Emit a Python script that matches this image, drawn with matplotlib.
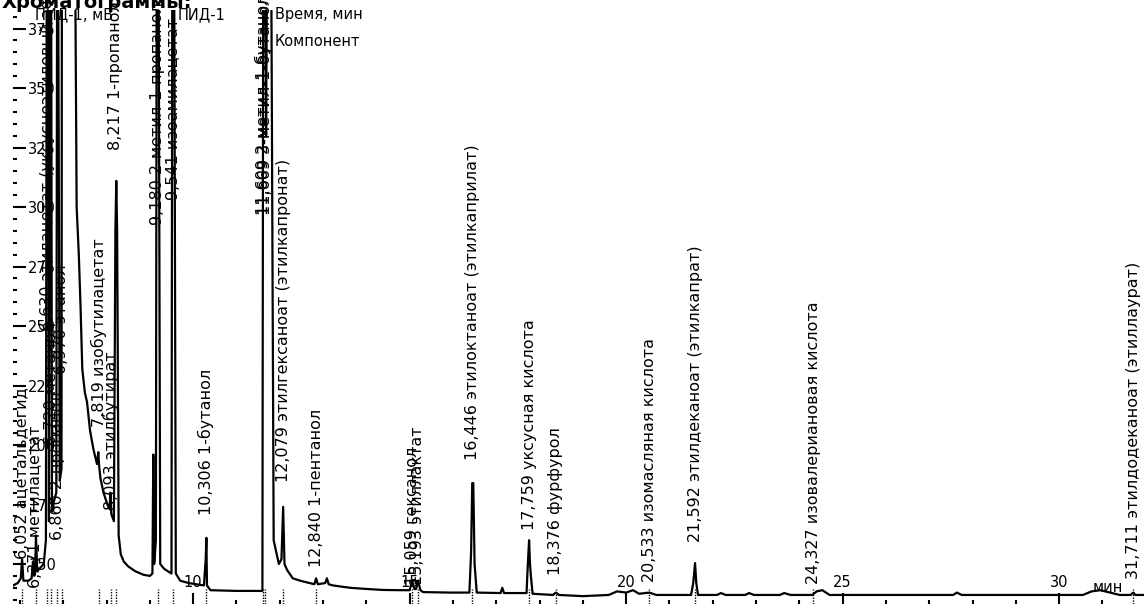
import matplotlib
matplotlib.use("Agg")
import matplotlib.pyplot as plt
import numpy as np

# --- chromatogram trace (minutes, mV) ---
t_early = [5.84, 5.95, 6.02, 6.05, 6.08, 6.20, 6.27, 6.30, 6.33, 6.35, 6.37, 6.40,
           6.55, 6.60, 6.62, 6.65, 6.67, 6.70, 6.72, 6.74, 6.78, 6.84, 6.86, 6.88,
           6.92, 6.96, 6.97, 7.27, 7.31, 7.36, 7.40, 7.44, 7.50, 7.55, 7.62, 7.70,
           7.78, 7.81, 7.83, 7.86, 7.93, 8.02, 8.07, 8.09, 8.11, 8.17, 8.205, 8.225,
           8.245, 8.28, 8.33, 8.40, 8.50]
mv_early = [141, 142, 144, 152, 143, 143, 144, 151, 145, 146, 162, 147,
            150, 160, 420, 420, 168, 420, 420, 172, 176, 180, 420, 420,
            185, 190, 420, 420, 300, 280, 258, 232, 222, 218, 206, 198,
            192, 197, 191, 186, 180, 175, 173, 180, 171, 168, 290, 311,
            290, 162, 154, 151, 149]

t_mid = [8.66, 8.85, 9.00, 9.06, 9.08, 9.10, 9.14, 9.16, 9.20, 9.24, 9.33, 9.50,
         9.52, 9.56, 9.60, 9.70, 9.90, 10.25, 10.29, 10.306, 10.32, 10.40, 11.00,
         11.60, 11.62, 11.66, 11.685, 11.71, 11.80, 11.86, 11.92, 11.98, 12.04,
         12.079, 12.11, 12.17, 12.30, 12.47, 12.80, 12.84, 12.88, 13.05, 13.09,
         13.13, 13.23, 13.63, 14.02, 14.39, 14.78, 15.00, 15.059, 15.11, 15.15,
         15.193, 15.25, 15.31, 15.94, 16.38, 16.42, 16.446, 16.47, 16.50, 16.55]
mv_mid = [147, 145.5, 145, 146, 196, 150, 160, 420, 420, 150, 148, 146,
          420, 420, 146, 143, 142, 141, 152, 161, 141, 139, 138.7,
          138.7, 420, 420, 330, 420, 420, 160, 155, 150, 152,
          174, 150, 147.5, 144, 143, 141.5, 144, 141.5, 142, 144,
          141.5, 141, 140, 139.5, 139.1, 139, 139, 143, 139.5, 139.5,
          143, 139, 138.2, 138, 138, 155, 184, 184, 150, 138]

t_late = [17.10, 17.14, 17.18, 17.70, 17.73, 17.759, 17.78, 17.80, 17.84, 18.31,
          18.376, 18.45, 19.00, 19.60, 19.79, 20.00, 20.16, 20.30, 20.533, 20.70,
          21.50, 21.55, 21.592, 21.62, 21.66, 22.10, 22.19, 22.30, 22.75, 22.84,
          22.95, 23.55, 23.65, 23.80, 24.30, 24.40, 24.53, 24.70, 25.20, 27.55,
          27.64, 27.75, 30.55, 30.75, 30.95, 31.18, 31.40, 31.65, 31.711, 31.76, 31.96]
mv_late = [137.8, 140, 137.8, 137.8, 150, 160, 150, 145, 137.5, 137,
           138, 137, 136.5, 137, 138.5, 138, 139, 137.5, 138, 137,
           137, 142, 150.4, 142, 137, 137, 137.8, 137, 137, 137.8,
           137, 137, 137.8, 137, 137, 138.5, 139, 137, 137, 137,
           138, 137, 137, 138.5, 139, 138, 137, 137, 138, 137, 137]

# --- peak labels ---
peak_times = [6.052, 6.371, 6.630, 6.720, 6.860, 6.970, 7.819, 8.093, 8.217,
              9.180, 9.541, 10.306, 11.609, 11.669, 12.079, 12.840, 15.059,
              15.193, 16.446, 17.759, 18.376, 20.533, 21.592, 24.327, 31.711]
peak_names = ["ацетальдегид", "метилацетат", "этилацетат (уксусноэтиловый эфир)",
              "метанол", "2-пропанол", "этанол", "изобутилацетат", "этилбутират",
              "1-пропанол", "2-метил-1-пропанол", "изоамилацетат", "1-бутанол",
              "2-метил-1-бутанол", "3-метил-1-бутанол",
              "этилгексаноат (этилкапронат)", "1-пентанол", "гексанол",
              "этиллактат", "этилоктаноат (этилкаприлат)", "уксусная кислота",
              "фурфурол", "изомасляная кислота", "этилдеканоат (этилкапрат)",
              "изовалериановая кислота", "этилдодеканоат (этиллаурат)"]
label_base_mv = [152, 140, 248, 200, 160, 230, 207.6, 172.7, 324,
                 292.4, 303, 170.6, 296.6, 296.6, 184.5, 148.7, 141.2,
                 141.2, 193.7, 164.3, 145.4, 142.4, 159.2, 141.6, 143.7]

y_ticks = [150, 175, 200, 225, 250, 275, 300, 325, 350, 375]
x_ticks = [10, 15, 20, 25, 30]

W, H = 1144, 604
fig = plt.figure(figsize=(W / 100, H / 100), dpi=100)
ax = fig.add_axes([13 / W, 0, 1 - 13 / W, 594 / H])

t = np.array(t_early + t_mid + t_late)
mv = np.array(mv_early + mv_mid + mv_late)
ax.plot(t, mv, color="black", lw=1.6)
ax.vlines(peak_times, 133.2, 139.5, colors="black", linestyles=(0, (1, 1)), lw=1)

ax.set_xlim(5.84, 31.96)
ax.set_ylim(133.2, 382.8)
for s in ax.spines.values():
    s.set_visible(False)

ax.set_xticks(x_ticks)
ax.set_xticks(np.arange(6, 32), minor=True)
ax.set_yticks(y_ticks)
ax.set_yticks(np.arange(135, 385, 5), minor=True)
ax.tick_params(which="both", direction="in", color="black", width=1.5)
ax.tick_params(axis="x", which="major", length=8, pad=-10, labelsize=10.5)
ax.tick_params(axis="x", which="minor", length=3)
ax.tick_params(axis="y", which="major", length=9, pad=-11, labelsize=10.5)
ax.tick_params(axis="y", which="minor", length=3)
plt.setp(ax.get_xticklabels(), va="bottom")
plt.setp(ax.get_yticklabels(), ha="left")

for pt, name, lvl in zip(peak_times, peak_names, label_base_mv):
    s = ("%.3f" % pt).replace(".", ",") + " " + name
    ax.text(pt, lvl, s, rotation=90, ha="center", va="bottom", fontsize=11.5,
            clip_on=False)

def fx(x):
    return x / W

def fy(y):
    return 1 - y / H

fig.text(0.001, fy(8), "Хроматограммы:", fontsize=14, fontweight="bold", va="baseline")
fig.text(fx(35), fy(15), "ПИД-1, мВ", fontsize=10.5, va="center")
fig.text(fx(178), fy(15), "ПИД-1", fontsize=10.5, va="center")
fig.text(fx(275), fy(15), "Время, мин", fontsize=10.5, va="center")
fig.text(fx(275), fy(42), "Компонент", fontsize=10.5, va="center")
fig.text(fx(1108), fy(588), "мин", fontsize=10.5, ha="center", va="center")

fig.savefig("out.png", dpi=100)
